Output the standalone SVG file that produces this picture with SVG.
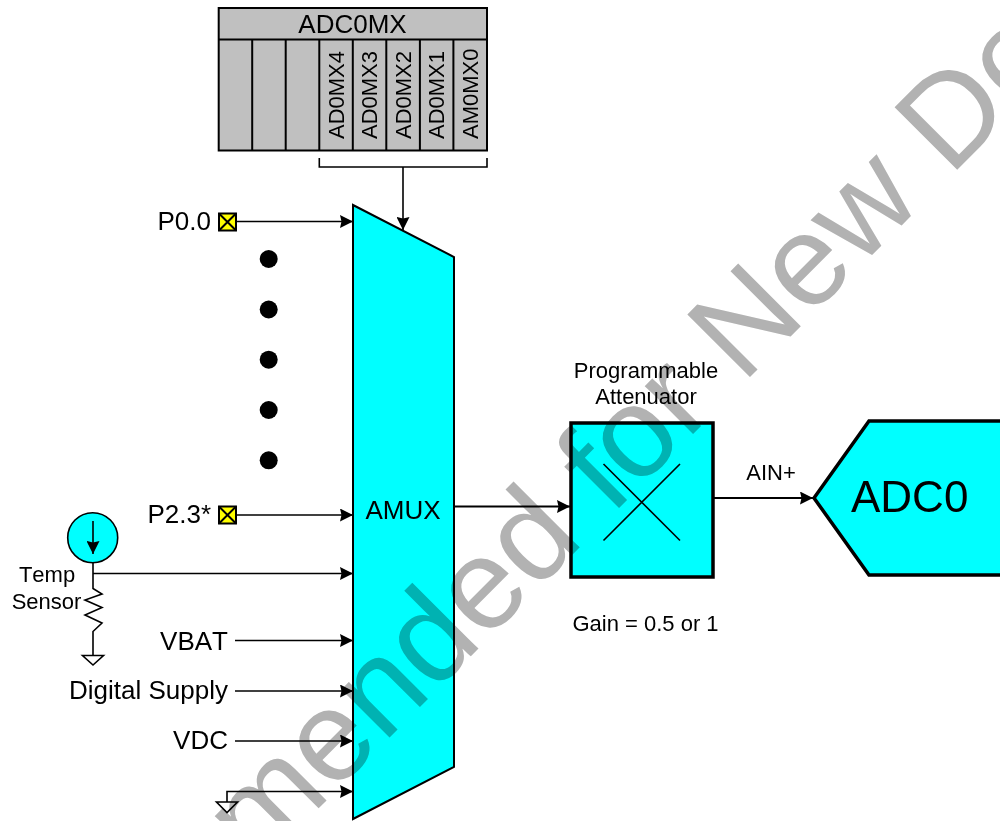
<svg xmlns="http://www.w3.org/2000/svg" width="1000" height="821" viewBox="0 0 1000 821">
<style>
text{font-family:"Liberation Sans",Arial,sans-serif;fill:#000;font-kerning:none}
.l{font-size:26px}.s{font-size:22px}.e{text-anchor:end}.m{text-anchor:middle}
.w{fill:none;stroke:#000;stroke-width:2}
.t{fill:none;stroke:#000;stroke-width:1.6}
.reg{fill:#c0c0c0;stroke:#000;stroke-width:2}
.cy{fill:#00ffff;stroke:#000}
.pin{fill:#ffff00;stroke:#000;stroke-width:2}
.wm{font-size:128.7px;fill:#b2b2b2;mix-blend-mode:multiply}
</style>
<defs>
<marker id="a" viewBox="0 0 13 13" refX="13" refY="6.5" markerUnits="userSpaceOnUse" markerWidth="13" markerHeight="13" orient="auto"><path d="M0 0L13 6.5L0 13L1.500 6.500Z" fill="#000"/></marker>
</defs>
<rect width="1000" height="821" fill="#fff"/>
<g id="ADC0MX">
<rect class="reg" x="218.700" y="8" width="268.300" height="142.500"/>
<path class="reg" d="M218.700 39.500H487M252.200 39.500V150.500M285.700 39.500V150.500M319.300 39.500V150.500M352.800 39.500V150.500M386.300 39.500V150.500M419.900 39.500V150.500M453.400 39.500V150.500"/>
<text class="m" x="352.500" y="32.500" font-size="26">ADC0MX</text>
<g font-size="22">
<text transform="translate(343.500 139) rotate(-90)">AD0MX4</text>
<text transform="translate(377 139) rotate(-90)">AD0MX3</text>
<text transform="translate(410.700 139) rotate(-90)">AD0MX2</text>
<text transform="translate(444.300 139) rotate(-90)">AD0MX1</text>
<text transform="translate(477.700 139) rotate(-90)">AM0MX0</text>
</g>
<path class="t" d="M319.300 158V167H487V158"/>
</g>
<g id="AMUX"><path class="cy" stroke-width="2" d="M353 205L454 257V767L353 819Z"/><text class="l" x="365.500" y="519">AMUX</text></g>
<g id="P0.0"><text class="l e" x="211" y="229.500">P0.0</text><rect class="pin" x="219" y="213.500" width="17" height="17"/><path class="pin" d="M219 213.500L236 230.500M236 213.500L219 230.500"/></g>
<g id="P2.3"><text class="l e" x="211" y="523">P2.3*</text><rect class="pin" x="219" y="506.500" width="17" height="17"/><path class="pin" d="M219 506.500L236 523.500M236 506.500L219 523.500"/></g>
<g id="dots" fill="#000"><circle cx="268.700" cy="259" r="9"/><circle cx="268.700" cy="309.500" r="9"/><circle cx="268.700" cy="359.700" r="9"/><circle cx="268.700" cy="410" r="9"/><circle cx="268.700" cy="460.300" r="9"/></g>
<g id="TempSensor">
<circle class="cy" stroke-width="1.600" cx="92.700" cy="537.700" r="25"/>
<path class="t" d="M93 521V554" marker-end="url(#a)"/>
<path class="t" d="M93 563V588.500L102 594L85 600L102 607.500L85 615L102 623L93 631.500V655"/>
<path fill="#fff" stroke="#000" stroke-width="1.600" d="M82.500 655.500H103.500L93 665Z"/>
<text class="s m" x="47" y="582">Temp</text><text class="s m" x="46.500" y="609">Sensor</text>
</g>
<g id="VBAT"><text class="l e" x="228" y="649.500">VBAT</text></g>
<g id="DigitalSupply"><text class="l e" x="228" y="699">Digital Supply</text></g>
<g id="VDC"><text class="l e" x="228" y="749">VDC</text></g>
<g id="GND"><path fill="#fff" stroke="#000" stroke-width="1.600" d="M216.500 802H237.500L227 812.500Z"/></g>
<g id="Attenuator">
<rect class="cy" stroke-width="3.500" x="571" y="423" width="142" height="154"/>
<path class="t" d="M603.500 464L680 540.500M680 464L603.500 540.500"/>
<text class="s m" x="646" y="378">Programmable</text><text class="s m" x="646" y="404">Attenuator</text>
<text class="s m" x="645.500" y="630.500">Gain = 0.5 or 1</text>
</g>
<g id="ADC0"><path class="cy" stroke-width="3.500" d="M814 498L869 421H1004V575H869Z"/><text x="851" y="512" font-size="44">ADC0</text></g>
<g id="connectors">
<path class="t" d="M403 167V230" marker-end="url(#a)"/>
<path class="t" d="M236 221.500H353" marker-end="url(#a)"/>
<path class="t" d="M236 515H353" marker-end="url(#a)"/>
<path class="t" d="M93 573.500H353" marker-end="url(#a)"/>
<path class="t" d="M235 640.500H353" marker-end="url(#a)"/>
<path class="t" d="M235 691H353" marker-end="url(#a)"/>
<path class="t" d="M235 741H353" marker-end="url(#a)"/>
<path class="t" d="M227 802V791.500H353" marker-end="url(#a)"/>
<path class="w" d="M454 506.500H570" marker-end="url(#a)"/>
<path class="w" d="M713 498H813" marker-end="url(#a)"/>
<text class="s m" x="771" y="479.500">AIN+</text>
</g>
<text class="wm" transform="translate(256.800 870.200) rotate(-45)">mended for New De</text>
</svg>
